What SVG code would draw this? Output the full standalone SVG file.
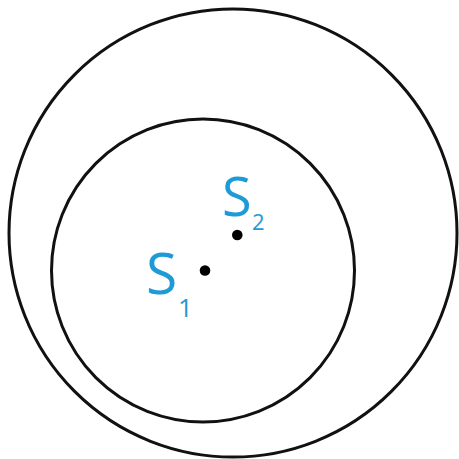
<svg xmlns="http://www.w3.org/2000/svg" width="459" height="459" viewBox="0 0 459 459">
<style>
.c{fill:none;stroke:#111;stroke-width:3}
.d{fill:#000}
.t{font-family:"Open Sans","Noto Sans",sans-serif;fill:#1e9ad6;font-weight:500}
</style>
<rect width="459" height="459" fill="#fff"/>
<g id="outer"><circle class="c" cx="233" cy="233" r="224"/></g>
<g id="inner"><circle class="c" cx="203" cy="270.5" r="151.5"/></g>
<g id="s1">
<circle class="d" cx="205" cy="270.5" r="5.3"/>
<text class="t" x="146" y="294" font-size="57">S</text>
<text class="t" x="178" y="317" font-size="26">1</text>
</g>
<g id="s2">
<circle class="d" cx="237.3" cy="235" r="5.3"/>
<text class="t" x="222" y="216" font-size="54">S</text>
<text class="t" x="252" y="230" font-size="22">2</text>
</g>
</svg>
